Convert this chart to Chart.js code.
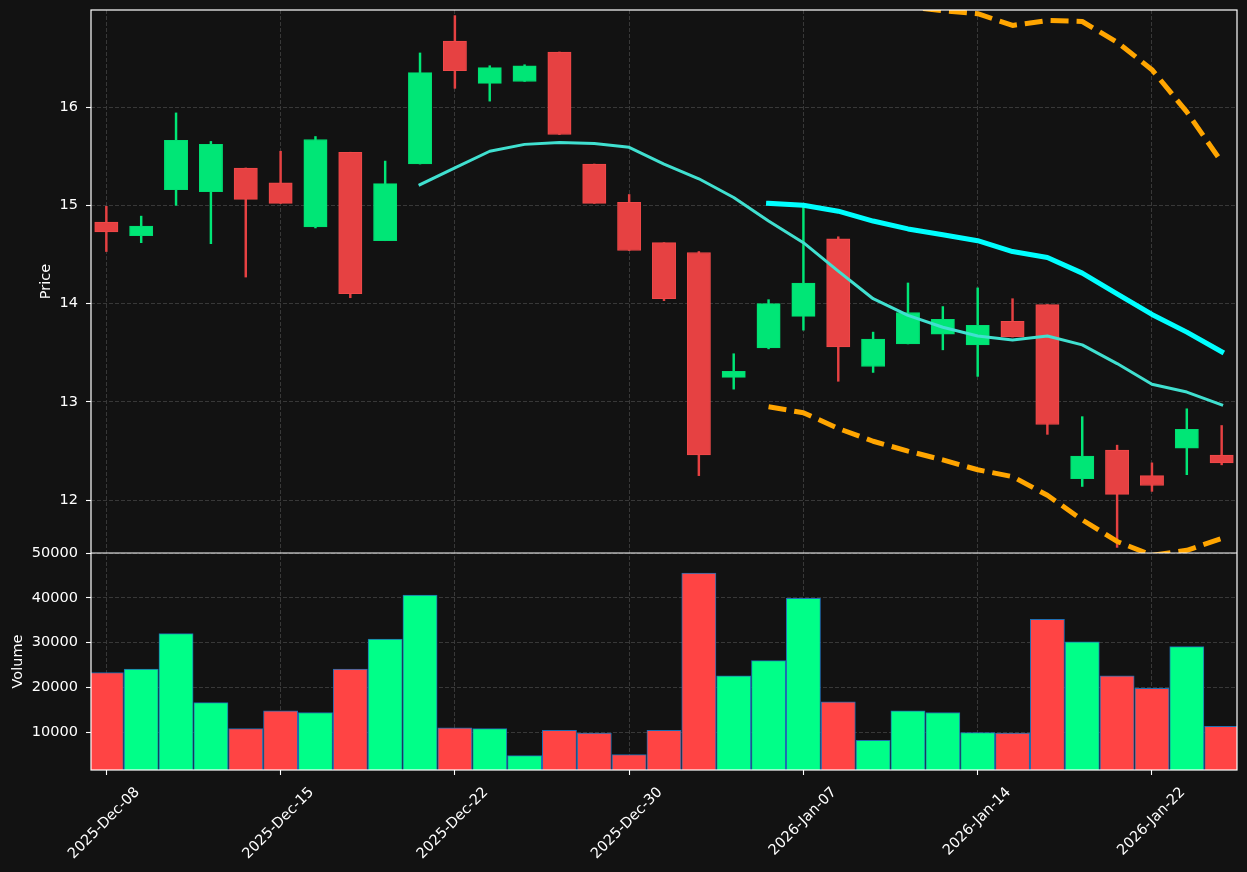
<!DOCTYPE html>
<html><head><meta charset="utf-8">
<script src="https://cdn.jsdelivr.net/npm/chart.js@4.4.1/dist/chart.umd.min.js"></script>
<style>
html,body{margin:0;padding:0;background:#121212;overflow:hidden;}
#wrap{width:1247px;height:872px;position:relative;}
canvas{display:block;}
</style></head><body>
<div id="wrap"><canvas id="c" width="1247" height="872"></canvas></div>
<script>
// ---- data ----
const dates = ['2025-Dec-08','2025-Dec-09','2025-Dec-10','2025-Dec-11','2025-Dec-12',
  '2025-Dec-15','2025-Dec-16','2025-Dec-17','2025-Dec-18','2025-Dec-19',
  '2025-Dec-22','2025-Dec-23','2025-Dec-24','2025-Dec-26','2025-Dec-29',
  '2025-Dec-30','2025-Dec-31','2026-Jan-02','2026-Jan-05','2026-Jan-06',
  '2026-Jan-07','2026-Jan-08','2026-Jan-09','2026-Jan-12','2026-Jan-13',
  '2026-Jan-14','2026-Jan-15','2026-Jan-16','2026-Jan-20','2026-Jan-21',
  '2026-Jan-22','2026-Jan-23','2026-Jan-26'];
const opens  = [14.83,14.69,15.16,15.14,15.38,15.23,14.78,15.54,14.64,15.42,
  16.67,16.24,16.26,16.56,15.42,15.03,14.62,14.52,13.25,13.55,
  13.87,14.66,13.36,13.59,13.69,13.58,13.82,13.99,12.22,12.51,
  12.25,12.53,12.46];
const highs  = [14.99,14.89,15.94,15.65,15.38,15.55,15.70,15.54,15.45,16.55,
  16.93,16.42,16.43,16.56,15.42,15.11,14.62,14.53,13.49,14.04,
  14.99,14.68,13.71,14.21,13.97,14.16,14.05,13.99,12.85,12.56,
  12.38,12.93,12.76];
const lows   = [14.53,14.62,15.00,14.61,14.27,15.02,14.77,14.06,14.64,15.42,
  16.19,16.06,16.26,15.72,15.02,14.54,14.03,12.25,13.13,13.54,
  13.73,13.21,13.30,13.59,13.53,13.26,13.66,12.67,12.14,11.52,
  12.09,12.26,12.36];
const closes = [14.73,14.79,15.66,15.62,15.06,15.02,15.67,14.10,15.22,16.35,
  16.37,16.40,16.42,15.72,15.02,14.54,14.05,12.46,13.31,14.00,
  14.21,13.56,13.64,13.91,13.84,13.78,13.66,12.77,12.45,12.06,
  12.15,12.72,12.38];
const volumes = [23300,24100,32000,16600,10800,14800,14400,24100,30800,40600,
  11000,10800,4800,10400,9800,5000,10400,45500,22600,26000,
  39900,16800,8200,14800,14400,9900,9800,35200,30200,22600,
  19800,29100,11300];
const ma10 = [null,null,null,null,null,null,null,null,null,15.21,
  15.38,15.55,15.62,15.64,15.63,15.59,15.42,15.27,15.08,14.84,
  14.62,14.33,14.05,13.88,13.76,13.67,13.63,13.67,13.58,13.39,
  13.18,13.10,12.97];
const ma20 = [null,null,null,null,null,null,null,null,null,null,
  null,null,null,null,null,null,null,null,null,15.02,
  15.00,14.94,14.84,14.76,14.70,14.64,14.53,14.47,14.31,14.10,
  13.89,13.71,13.51];
const bbUpper = [null,null,null,null,null,null,null,null,null,null,
  null,null,null,null,null,null,null,null,null,17.10,
  17.12,17.15,17.08,17.02,16.98,16.95,16.83,16.88,16.87,16.66,
  16.38,15.95,15.44];
const bbLower = [null,null,null,null,null,null,null,null,null,null,
  null,null,null,null,null,null,null,null,null,12.95,
  12.89,12.73,12.60,12.50,12.41,12.31,12.24,12.05,11.80,11.58,
  11.44,11.49,11.61];
const xTickIdx = [0,5,10,15,20,25,30];
const priceTicks = [12,13,14,15,16];
const volumeTicks = [10000,20000,30000,40000,50000];

// ---- styles ----
const BG = '#121212';
const GRID = '#3d3d3d';
const TXT = '#ffffff';
const C_UP = '#00e676', C_DN = '#e64142';
const E_UP = '#00dd72', E_DN = '#f04a4a';
const V_UP = '#00ff88', V_DN = '#ff4444';
const FONT = {family: "'DejaVu Sans', sans-serif", size: 14.5};

const idx = dates.map((d, i) => i);
const isUp = idx.map(i => closes[i] >= opens[i]);

const bgPlugin = {
  id: 'bg',
  beforeDraw(chart) {
    const {ctx, width, height} = chart;
    ctx.save(); ctx.fillStyle = BG; ctx.fillRect(0, 0, width, height); ctx.restore();
  }
};
const framePlugin = {
  id: 'frame',
  afterDraw(chart) {
    const {ctx, chartArea: a} = chart;
    const yp = chart.scales.y;
    ctx.save();
    ctx.strokeStyle = '#ffffff'; ctx.lineWidth = 1.2;
    ctx.strokeRect(a.left, a.top, a.right - a.left, a.bottom - a.top);
    ctx.beginPath(); ctx.moveTo(a.left, yp.bottom); ctx.lineTo(a.right, yp.bottom); ctx.stroke();
    ctx.restore();
  }
};
const noPad = s => { s.paddingTop = 0; s.paddingBottom = 0; s.paddingLeft = 0; s.paddingRight = 0; };

const lineDs = (label, arr, color, width, dash) => ({
  type: 'line', label, data: idx.map(i => ({x: i, y: arr[i]})),
  borderColor: color, borderWidth: width, borderDash: dash || [],
  borderCapStyle: dash ? 'butt' : 'square', borderJoinStyle: 'round',
  pointRadius: 0, tension: 0, spanGaps: false, xAxisID: 'x', yAxisID: 'y', order: 0, clip: 0
});

new Chart(document.getElementById('c'), {
  type: 'bar',
  plugins: [bgPlugin, framePlugin],
  data: {
    datasets: [
      lineDs('MA10', ma10, '#40e0d0', 3),
      lineDs('MA20', ma20, '#00ffff', 5),
      lineDs('BB upper', bbUpper, '#ffa500', 5, [18, 8]),
      lineDs('BB lower', bbLower, '#ffa500', 5, [18, 8]),
      {
        type: 'bar', label: 'Body', data: idx.map(i => ({x: i, y: [opens[i], closes[i]]})),
        backgroundColor: idx.map(i => isUp[i] ? C_UP : C_DN),
        borderColor: idx.map(i => isUp[i] ? E_UP : E_DN), borderWidth: 1, borderSkipped: false,
        barThickness: 23.3, grouped: false, xAxisID: 'x', yAxisID: 'y', order: 1, clip: 0
      },
      {
        type: 'bar', label: 'Wick', data: idx.map(i => ({x: i, y: [lows[i], highs[i]]})),
        backgroundColor: idx.map(i => isUp[i] ? C_UP : C_DN), borderWidth: 0,
        barThickness: 1.8, grouped: false, xAxisID: 'x', yAxisID: 'y', order: 2, clip: 0
      },
      {
        type: 'bar', label: 'Volume', data: idx.map(i => ({x: i, y: volumes[i]})),
        backgroundColor: idx.map(i => isUp[i] ? V_UP : V_DN),
        borderColor: '#1f6fb4', borderWidth: 1, borderSkipped: false,
        barThickness: 34.2, grouped: false, xAxisID: 'x', yAxisID: 'yv', order: 3, clip: 0
      }
    ]
  },
  options: {
    responsive: false, animation: false, devicePixelRatio: 1,
    layout: {padding: {left: 0, right: 10, top: 10, bottom: 0}},
    plugins: {legend: {display: false}, tooltip: {enabled: false}},
    scales: {
      x: {
        type: 'linear', position: 'bottom', min: -0.44, max: 32.44, offset: false,
        afterBuildTicks: s => { s.ticks = xTickIdx.map(v => ({value: v})); },
        afterFit: s => { s.height = 102; noPad(s); },
        ticks: {color: TXT, font: FONT, autoSkip: false, minRotation: 45, maxRotation: 45,
                padding: 9, labelOffset: 31, callback: v => dates[v]},
        grid: {color: GRID, lineWidth: 0.9, offset: false, tickColor: '#ffffff', tickLength: 5, tickWidth: 1.1},
        border: {display: false, dash: [4, 2]}
      },
      y: {
        type: 'linear', position: 'left', stack: 'panels', stackWeight: 543, weight: 2,
        min: 11.463, max: 16.987, beginAtZero: false,
        afterBuildTicks: s => { s.ticks = priceTicks.map(v => ({value: v})); },
        afterFit: s => { s.width = 91; noPad(s); },
        ticks: {color: TXT, font: FONT, padding: 8, callback: v => String(v)},
        grid: {color: GRID, lineWidth: 0.9, tickColor: '#ffffff', tickLength: 5, tickWidth: 1.1},
        border: {display: false, dash: [4, 2]},
        title: {display: true, text: 'Price', color: TXT, font: FONT, padding: {top: 38, bottom: 0}}
      },
      yv: {
        type: 'linear', position: 'left', stack: 'panels', stackWeight: 217, weight: 1,
        min: 1575, max: 50000, beginAtZero: false,
        afterBuildTicks: s => { s.ticks = volumeTicks.map(v => ({value: v})); },
        afterFit: s => { s.width = 91; noPad(s); },
        ticks: {color: TXT, font: FONT, padding: 8, callback: v => String(v)},
        grid: {color: GRID, lineWidth: 0.9, tickColor: '#ffffff', tickLength: 5, tickWidth: 1.1},
        border: {display: false, dash: [4, 2]},
        title: {display: true, text: 'Volume', color: TXT, font: FONT, padding: {top: 9.5, bottom: 0}}
      }
    }
  }
});
</script>
</body></html>
